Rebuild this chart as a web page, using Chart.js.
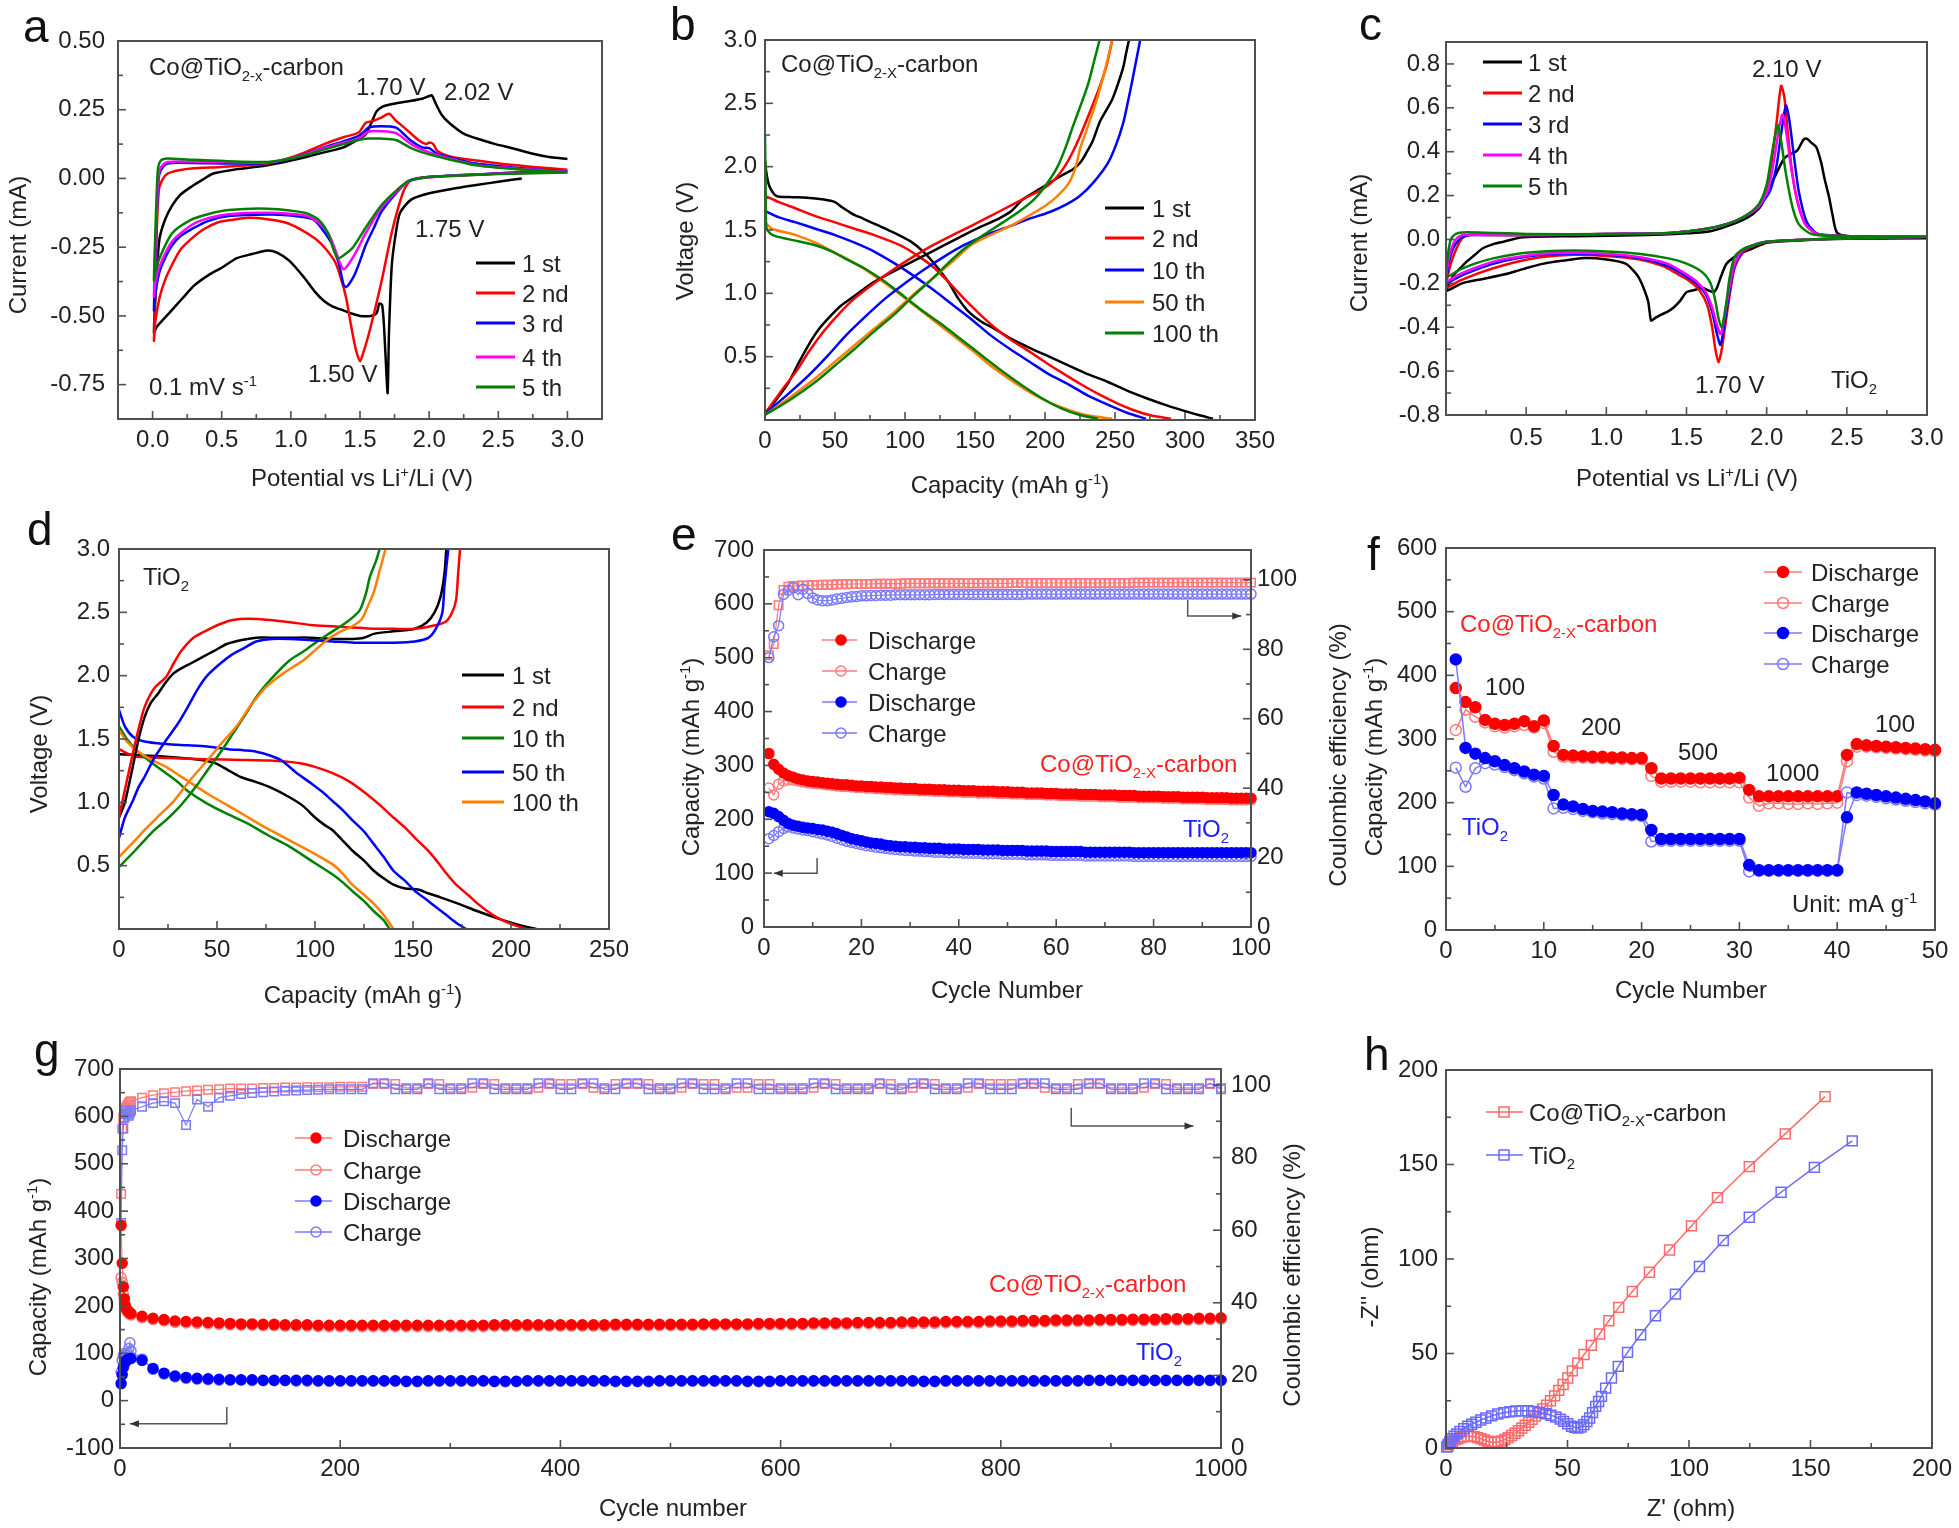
<!DOCTYPE html>
<html><head><meta charset="utf-8">
<script src="https://cdn.jsdelivr.net/npm/chart.js@4.4.1/dist/chart.umd.min.js"></script>
<style>
html,body{margin:0;padding:0;background:#fff;}
#wrap{position:relative;width:1959px;height:1528px;overflow:hidden;background:#fff;}
#wrap canvas{position:absolute;}
</style></head><body><div id="wrap"></div>
<script>
// ===================== DATA =====================
// Panel a: CV of Co@TiO2-x-carbon  [potential V, current mA]
const cvA1 = [[2.67,0.0],[2.5,-0.012],[2.34,-0.024],[2.2,-0.035],[2.0,-0.054],[1.87,-0.077],[1.79,-0.125],[1.76,-0.196],[1.73,-0.315],[1.71,-0.554],[1.70,-0.78],[1.69,-0.70],[1.675,-0.55],[1.66,-0.46],[1.64,-0.455],[1.62,-0.49],[1.58,-0.5],[1.5,-0.5],[1.43,-0.49],[1.38,-0.48],[1.3,-0.465],[1.24,-0.446],[1.17,-0.41],[1.1,-0.363],[0.99,-0.30],[0.9,-0.27],[0.83,-0.262],[0.72,-0.275],[0.61,-0.29],[0.5,-0.325],[0.41,-0.35],[0.3,-0.39],[0.22,-0.434],[0.12,-0.49],[0.03,-0.54],[0.01,-0.56],[0.03,-0.35],[0.05,-0.22],[0.09,-0.15],[0.14,-0.10],[0.2,-0.06],[0.28,-0.03],[0.36,-0.005],[0.44,0.018],[0.6,0.033],[0.83,0.048],[1.0,0.065],[1.2,0.09],[1.38,0.113],[1.48,0.14],[1.54,0.16],[1.58,0.2],[1.62,0.244],[1.66,0.26],[1.71,0.268],[1.84,0.28],[1.95,0.29],[2.0,0.30],[2.02,0.302],[2.05,0.27],[2.09,0.232],[2.15,0.2],[2.26,0.16],[2.38,0.14],[2.48,0.125],[2.6,0.11],[2.75,0.09],[2.88,0.077],[3.0,0.071]];
const cvA2 = [[3.0,0.032],[2.75,0.027],[2.48,0.018],[2.2,0.01],[2.0,0.006],[1.87,-0.006],[1.82,-0.04],[1.78,-0.1],[1.73,-0.196],[1.65,-0.387],[1.57,-0.554],[1.52,-0.64],[1.50,-0.665],[1.48,-0.64],[1.46,-0.6],[1.43,-0.52],[1.40,-0.435],[1.36,-0.36],[1.32,-0.304],[1.25,-0.255],[1.18,-0.22],[1.07,-0.185],[0.96,-0.16],[0.83,-0.148],[0.69,-0.143],[0.58,-0.15],[0.47,-0.16],[0.37,-0.185],[0.28,-0.22],[0.2,-0.26],[0.14,-0.315],[0.09,-0.37],[0.05,-0.435],[0.02,-0.52],[0.01,-0.59],[0.02,-0.4],[0.03,-0.196],[0.04,-0.08],[0.05,-0.03],[0.09,0.01],[0.14,0.024],[0.28,0.036],[0.5,0.042],[0.83,0.054],[1.05,0.085],[1.24,0.125],[1.38,0.15],[1.49,0.167],[1.54,0.202],[1.6,0.21],[1.65,0.22],[1.71,0.235],[1.76,0.21],[1.82,0.185],[1.93,0.137],[1.98,0.125],[2.0,0.131],[2.03,0.125],[2.06,0.10],[2.15,0.08],[2.34,0.065],[2.55,0.052],[2.75,0.042],[3.0,0.032]];
const cvA3 = [[3.0,0.024],[2.5,0.018],[2.0,0.005],[1.85,-0.01],[1.76,-0.054],[1.70,-0.09],[1.65,-0.125],[1.6,-0.18],[1.54,-0.244],[1.5,-0.3],[1.46,-0.351],[1.42,-0.385],[1.40,-0.395],[1.38,-0.385],[1.35,-0.315],[1.32,-0.27],[1.29,-0.232],[1.22,-0.18],[1.16,-0.149],[1.0,-0.135],[0.83,-0.131],[0.55,-0.137],[0.4,-0.155],[0.28,-0.185],[0.2,-0.21],[0.14,-0.244],[0.09,-0.29],[0.05,-0.34],[0.02,-0.42],[0.01,-0.48],[0.02,-0.3],[0.03,-0.137],[0.04,-0.03],[0.05,0.018],[0.08,0.045],[0.11,0.054],[0.19,0.057],[0.4,0.055],[0.83,0.056],[1.05,0.08],[1.24,0.113],[1.38,0.135],[1.49,0.155],[1.53,0.17],[1.56,0.185],[1.65,0.19],[1.76,0.185],[1.82,0.16],[1.87,0.137],[1.95,0.113],[2.0,0.11],[2.06,0.089],[2.2,0.07],[2.34,0.054],[2.6,0.04],[3.0,0.024]];
const cvA4 = [[3.0,0.024],[2.5,0.017],[2.0,0.004],[1.85,-0.012],[1.76,-0.05],[1.65,-0.11],[1.54,-0.2],[1.48,-0.26],[1.42,-0.31],[1.38,-0.33],[1.35,-0.3],[1.31,-0.245],[1.27,-0.2],[1.2,-0.16],[1.1,-0.135],[0.83,-0.125],[0.55,-0.13],[0.4,-0.145],[0.28,-0.17],[0.14,-0.23],[0.05,-0.32],[0.02,-0.38],[0.01,-0.43],[0.02,-0.27],[0.03,-0.12],[0.04,-0.01],[0.05,0.03],[0.08,0.052],[0.11,0.06],[0.19,0.062],[0.5,0.06],[0.83,0.058],[1.05,0.08],[1.24,0.11],[1.38,0.13],[1.49,0.145],[1.56,0.17],[1.65,0.172],[1.76,0.165],[1.87,0.125],[1.95,0.105],[2.06,0.085],[2.34,0.05],[2.6,0.037],[3.0,0.024]];
const cvA5 = [[3.0,0.022],[2.5,0.016],[2.0,0.005],[1.85,-0.01],[1.76,-0.045],[1.65,-0.1],[1.54,-0.18],[1.45,-0.25],[1.38,-0.28],[1.34,-0.29],[1.31,-0.26],[1.27,-0.2],[1.2,-0.15],[1.1,-0.125],[0.83,-0.11],[0.55,-0.115],[0.4,-0.13],[0.28,-0.15],[0.14,-0.2],[0.05,-0.29],[0.02,-0.34],[0.01,-0.37],[0.02,-0.2],[0.03,-0.05],[0.04,0.04],[0.06,0.065],[0.09,0.072],[0.15,0.072],[0.3,0.068],[0.83,0.06],[1.05,0.078],[1.24,0.105],[1.38,0.125],[1.49,0.14],[1.56,0.145],[1.65,0.145],[1.76,0.14],[1.87,0.11],[1.95,0.095],[2.06,0.08],[2.34,0.048],[2.6,0.035],[3.0,0.022]];
const aLabels = ['1 st','2 nd','3 rd','4 th','5 th'];
const aXTicks = [0,0.5,1.0,1.5,2.0,2.5,3.0];
const aYTicks = [-0.75,-0.5,-0.25,0,0.25,0.5];

// Panel b: Co@TiO2-x-carbon voltage profiles [capacity mAh/g, voltage V]
const bDis1 = [[0,2.05],[1,1.95],[3,1.85],[8,1.77],[17,1.76],[30,1.755],[42,1.74],[50,1.72],[55,1.68],[62,1.63],[70,1.59],[80,1.54],[92,1.48],[104,1.41],[114,1.32],[122,1.22],[131,1.09],[138,0.96],[145,0.86],[154,0.78],[164,0.72],[176,0.64],[189,0.57],[203,0.50],[217,0.43],[231,0.36],[245,0.30],[259,0.23],[273,0.17],[287,0.115],[300,0.07],[311,0.035],[320,0.01]];
const bDis2 = [[0,1.77],[10,1.72],[22,1.67],[36,1.61],[50,1.56],[64,1.51],[78,1.46],[90,1.41],[100,1.36],[110,1.29],[120,1.21],[131,1.09],[142,0.96],[153,0.84],[164,0.73],[176,0.63],[189,0.54],[201,0.45],[214,0.36],[226,0.28],[239,0.20],[252,0.13],[264,0.075],[276,0.035],[290,0.01]];
const bDis10 = [[0,1.65],[10,1.6],[22,1.56],[36,1.51],[50,1.46],[64,1.40],[78,1.33],[92,1.24],[106,1.14],[120,1.03],[134,0.91],[148,0.79],[161,0.67],[175,0.56],[189,0.46],[203,0.36],[217,0.28],[231,0.19],[245,0.12],[259,0.055],[272,0.01]];
const bDis50 = [[0,1.56],[5,1.51],[22,1.46],[36,1.40],[50,1.32],[64,1.24],[78,1.14],[92,1.03],[106,0.91],[120,0.79],[134,0.67],[148,0.55],[161,0.43],[175,0.32],[189,0.22],[203,0.14],[217,0.08],[231,0.035],[248,0.01]];
const bDis100 = [[0,2.25],[0.5,1.8],[1,1.52],[4,1.47],[8,1.45],[20,1.42],[36,1.38],[48,1.33],[58,1.27],[72,1.19],[86,1.09],[100,0.97],[114,0.85],[128,0.74],[142,0.62],[156,0.50],[170,0.38],[184,0.27],[198,0.17],[212,0.09],[225,0.04],[238,0.01]];
const bChg1 = [[0,0.05],[8,0.16],[17,0.30],[24,0.45],[31,0.59],[38,0.71],[45,0.80],[54,0.90],[64,0.98],[75,1.07],[86,1.14],[100,1.22],[114,1.30],[128,1.38],[142,1.46],[155,1.53],[167,1.59],[176,1.65],[184,1.74],[194,1.81],[203,1.87],[212,1.93],[220,1.98],[225,2.03],[228,2.08],[234,2.2],[239,2.35],[244,2.45],[248,2.53],[252,2.65],[256,2.79],[258,2.9],[260,3.0]];
const bChg2 = [[0,0.05],[11,0.22],[22,0.38],[32,0.55],[42,0.70],[53,0.84],[64,0.96],[78,1.08],[92,1.19],[106,1.29],[120,1.38],[134,1.46],[147,1.53],[161,1.61],[175,1.69],[187,1.76],[198,1.82],[207,1.9],[214,2.0],[220,2.12],[225,2.24],[232,2.43],[239,2.63],[244,2.8],[248,3.0]];
const bChg10 = [[0,0.05],[15,0.19],[31,0.35],[45,0.51],[58,0.67],[72,0.82],[86,0.96],[100,1.08],[114,1.19],[128,1.29],[142,1.38],[158,1.46],[175,1.53],[189,1.59],[203,1.64],[215,1.70],[225,1.77],[235,1.88],[245,2.03],[251,2.18],[256,2.35],[259,2.5],[262,2.66],[265,2.83],[268,3.0]];
const bChg50 = [[0,0.04],[18,0.18],[36,0.33],[50,0.46],[64,0.59],[78,0.72],[92,0.85],[106,0.99],[120,1.12],[134,1.25],[147,1.38],[161,1.46],[175,1.53],[188,1.61],[200,1.69],[209,1.77],[217,1.87],[222,2.0],[225,2.14],[231,2.33],[237,2.53],[243,2.77],[248,3.0]];
const bChg100 = [[0,0.04],[18,0.16],[36,0.30],[50,0.43],[64,0.56],[78,0.70],[92,0.83],[106,0.98],[120,1.12],[131,1.24],[142,1.35],[156,1.46],[170,1.56],[182,1.65],[192,1.74],[201,1.86],[209,2.0],[215,2.16],[220,2.32],[226,2.5],[231,2.66],[235,2.83],[239,3.0]];
const bLabels = ['1 st','2 nd','10 th','50 th','100 th'];
const bXTicks = [0,50,100,150,200,250,300,350];
const bYTicks = [0.5,1.0,1.5,2.0,2.5,3.0];

// Panel c: CV of TiO2
const cvC1 = [[3.0,0.005],[2.5,0.003],[2.2,-0.005],[2.0,-0.015],[1.9,-0.045],[1.82,-0.07],[1.75,-0.11],[1.72,-0.16],[1.70,-0.2],[1.69,-0.22],[1.67,-0.24],[1.63,-0.23],[1.6,-0.22],[1.55,-0.23],[1.5,-0.24],[1.46,-0.28],[1.42,-0.31],[1.38,-0.33],[1.35,-0.34],[1.31,-0.355],[1.28,-0.37],[1.27,-0.33],[1.26,-0.28],[1.22,-0.2],[1.19,-0.16],[1.12,-0.11],[0.99,-0.09],[0.86,-0.085],[0.75,-0.095],[0.61,-0.11],[0.48,-0.135],[0.36,-0.16],[0.23,-0.18],[0.1,-0.2],[0.0,-0.235],[0.02,-0.2],[0.05,-0.16],[0.09,-0.13],[0.13,-0.1],[0.18,-0.07],[0.23,-0.04],[0.3,-0.02],[0.36,-0.01],[0.48,0.01],[0.8,0.015],[1.25,0.02],[1.5,0.028],[1.63,0.035],[1.75,0.06],[1.88,0.1],[1.95,0.14],[1.98,0.175],[2.02,0.24],[2.06,0.3],[2.11,0.37],[2.15,0.39],[2.19,0.405],[2.23,0.455],[2.25,0.46],[2.28,0.44],[2.31,0.42],[2.34,0.35],[2.36,0.28],[2.39,0.19],[2.41,0.115],[2.44,0.03],[2.52,0.015],[3.0,0.01]];
const cvC2 = [[3.0,0.012],[2.5,0.005],[2.2,-0.002],[2.0,-0.012],[1.9,-0.035],[1.85,-0.06],[1.8,-0.13],[1.77,-0.25],[1.74,-0.4],[1.72,-0.5],[1.70,-0.56],[1.68,-0.5],[1.66,-0.4],[1.63,-0.3],[1.58,-0.23],[1.52,-0.19],[1.45,-0.16],[1.35,-0.12],[1.2,-0.09],[1.0,-0.075],[0.8,-0.07],[0.6,-0.08],[0.45,-0.1],[0.3,-0.13],[0.18,-0.16],[0.08,-0.19],[0.0,-0.22],[0.01,-0.17],[0.03,-0.11],[0.06,-0.05],[0.1,0.005],[0.15,0.02],[0.3,0.02],[0.6,0.02],[1.0,0.025],[1.4,0.03],[1.6,0.045],[1.75,0.07],[1.85,0.1],[1.95,0.15],[2.0,0.23],[2.03,0.35],[2.06,0.52],[2.09,0.70],[2.11,0.65],[2.13,0.5],[2.16,0.3],[2.2,0.15],[2.25,0.06],[2.32,0.025],[2.5,0.015],[3.0,0.012]];
const cvC3 = [[3.0,0.012],[2.5,0.006],[2.2,-0.002],[2.0,-0.01],[1.9,-0.03],[1.85,-0.055],[1.8,-0.12],[1.77,-0.23],[1.74,-0.37],[1.72,-0.46],[1.71,-0.48],[1.69,-0.43],[1.66,-0.33],[1.62,-0.25],[1.56,-0.2],[1.48,-0.16],[1.38,-0.12],[1.2,-0.085],[1.0,-0.07],[0.8,-0.065],[0.6,-0.07],[0.45,-0.085],[0.3,-0.11],[0.18,-0.14],[0.08,-0.17],[0.0,-0.2],[0.01,-0.14],[0.03,-0.07],[0.06,-0.02],[0.1,0.01],[0.15,0.02],[0.6,0.02],[1.0,0.025],[1.4,0.03],[1.6,0.045],[1.75,0.07],[1.85,0.1],[1.95,0.15],[2.02,0.22],[2.06,0.33],[2.09,0.48],[2.12,0.61],[2.14,0.55],[2.17,0.38],[2.2,0.22],[2.25,0.08],[2.32,0.025],[2.5,0.015],[3.0,0.012]];
const cvC4 = [[3.0,0.012],[2.5,0.006],[2.0,-0.01],[1.9,-0.03],[1.85,-0.05],[1.8,-0.11],[1.77,-0.21],[1.74,-0.34],[1.72,-0.42],[1.71,-0.43],[1.69,-0.39],[1.66,-0.31],[1.62,-0.24],[1.56,-0.19],[1.48,-0.15],[1.38,-0.11],[1.2,-0.08],[1.0,-0.065],[0.8,-0.06],[0.6,-0.065],[0.45,-0.08],[0.3,-0.1],[0.18,-0.13],[0.08,-0.16],[0.0,-0.19],[0.01,-0.12],[0.03,-0.05],[0.06,0.0],[0.1,0.02],[0.15,0.022],[0.6,0.02],[1.0,0.025],[1.4,0.03],[1.6,0.045],[1.75,0.07],[1.85,0.1],[1.95,0.15],[2.01,0.23],[2.05,0.38],[2.08,0.52],[2.10,0.57],[2.12,0.5],[2.15,0.34],[2.19,0.18],[2.24,0.07],[2.32,0.025],[2.5,0.015],[3.0,0.012]];
const cvC5 = [[3.0,0.012],[2.5,0.006],[2.0,-0.01],[1.9,-0.03],[1.85,-0.045],[1.8,-0.08],[1.77,-0.17],[1.75,-0.28],[1.73,-0.37],[1.72,-0.40],[1.70,-0.36],[1.68,-0.28],[1.65,-0.2],[1.6,-0.15],[1.5,-0.11],[1.38,-0.085],[1.2,-0.065],[1.0,-0.055],[0.8,-0.05],[0.6,-0.055],[0.45,-0.065],[0.3,-0.085],[0.18,-0.11],[0.08,-0.14],[0.0,-0.17],[0.01,-0.08],[0.03,0.0],[0.06,0.025],[0.1,0.032],[0.2,0.032],[0.5,0.025],[1.0,0.025],[1.4,0.03],[1.6,0.045],[1.75,0.07],[1.85,0.1],[1.95,0.16],[2.0,0.25],[2.03,0.38],[2.06,0.5],[2.07,0.52],[2.09,0.45],[2.12,0.3],[2.16,0.15],[2.2,0.07],[2.28,0.025],[2.5,0.015],[3.0,0.012]];
const cXTicks = [0.5,1.0,1.5,2.0,2.5,3.0];
const cYTicks = [-0.8,-0.6,-0.4,-0.2,0,0.2,0.4,0.6,0.8];

// Panel d: TiO2 voltage profiles
const dDis1 = [[0,1.38],[12,1.37],[24,1.36],[39,1.34],[49,1.31],[55,1.26],[62,1.2],[70,1.16],[77,1.12],[87,1.04],[94,0.97],[100,0.88],[105,0.82],[109,0.78],[114,0.7],[119,0.62],[125,0.54],[130,0.46],[135,0.4],[140,0.35],[146,0.32],[153,0.31],[158,0.28],[164,0.25],[173,0.2],[183,0.14],[192,0.09],[200,0.05],[207,0.02],[213,0.0]];
const dDis2 = [[0,1.42],[5,1.38],[9,1.36],[25,1.35],[45,1.34],[62,1.335],[77,1.33],[86,1.32],[92,1.31],[100,1.28],[109,1.23],[118,1.16],[126,1.07],[133,0.98],[140,0.88],[146,0.8],[151,0.72],[157,0.63],[162,0.54],[167,0.44],[172,0.35],[178,0.27],[183,0.2],[188,0.14],[193,0.09],[200,0.04],[208,0.0]];
const dDis10 = [[0,1.6],[4,1.5],[9,1.41],[16,1.32],[24,1.23],[30,1.16],[35,1.09],[45,0.99],[55,0.91],[66,0.83],[76,0.74],[87,0.65],[98,0.54],[109,0.43],[114,0.37],[119,0.30],[125,0.22],[130,0.14],[135,0.07],[138,0.0]];
const dDis50 = [[0,1.73],[3,1.6],[7,1.52],[13,1.48],[24,1.46],[35,1.45],[45,1.44],[56,1.42],[64,1.41],[70,1.40],[77,1.37],[83,1.33],[90,1.24],[98,1.15],[104,1.08],[109,1.01],[114,0.94],[119,0.86],[125,0.77],[130,0.67],[135,0.57],[140,0.46],[146,0.38],[151,0.30],[157,0.23],[162,0.17],[167,0.11],[172,0.05],[177,0.0]];
const dDis100 = [[0,1.57],[4,1.48],[9,1.41],[16,1.34],[24,1.28],[30,1.22],[35,1.17],[45,1.07],[55,0.98],[66,0.88],[76,0.79],[87,0.70],[98,0.61],[109,0.51],[114,0.44],[119,0.35],[125,0.27],[130,0.2],[135,0.11],[140,0.0]];
const dChg1 = [[0,0.88],[3,1.0],[7,1.28],[10,1.5],[13,1.67],[16,1.78],[20,1.86],[24,1.95],[28,2.02],[32,2.06],[37,2.1],[43,2.15],[49,2.2],[55,2.25],[62,2.28],[70,2.3],[77,2.3],[87,2.3],[98,2.3],[109,2.29],[119,2.29],[125,2.3],[130,2.33],[140,2.35],[151,2.37],[157,2.42],[161,2.5],[164,2.62],[166,2.8],[167,3.0]];
const dChg2 = [[0,0.88],[3,1.1],[7,1.38],[10,1.58],[13,1.75],[18,1.9],[24,1.99],[28,2.1],[32,2.2],[38,2.3],[45,2.36],[52,2.41],[58,2.44],[66,2.45],[77,2.44],[88,2.42],[98,2.4],[109,2.39],[119,2.38],[130,2.37],[140,2.37],[151,2.37],[162,2.4],[167,2.43],[170,2.5],[172,2.6],[173,2.8],[174,3.0]];
const dChg10 = [[0,0.49],[7,0.6],[13,0.70],[18,0.78],[24,0.86],[30,0.95],[35,1.04],[40,1.14],[45,1.25],[52,1.4],[58,1.54],[64,1.68],[70,1.83],[78,1.98],[87,2.12],[95,2.2],[102,2.28],[108,2.34],[115,2.41],[120,2.47],[123,2.52],[126,2.65],[128,2.78],[131,2.9],[133,3.0]];
const dChg50 = [[0,0.72],[3,0.88],[7,1.01],[10,1.12],[13,1.2],[18,1.35],[24,1.49],[30,1.62],[35,1.75],[40,1.89],[45,2.0],[52,2.1],[58,2.17],[64,2.22],[70,2.27],[78,2.29],[87,2.29],[98,2.28],[109,2.27],[120,2.26],[130,2.26],[140,2.26],[151,2.27],[158,2.3],[162,2.38],[165,2.5],[166,2.7],[168,3.0]];
const dChg100 = [[0,0.57],[7,0.68],[13,0.78],[20,0.89],[28,1.01],[36,1.17],[45,1.33],[52,1.46],[60,1.6],[67,1.76],[75,1.91],[84,2.02],[94,2.12],[100,2.2],[106,2.28],[112,2.34],[119,2.39],[124,2.45],[127,2.55],[130,2.66],[133,2.83],[136,3.0]];
const dLabels = ['1 st','2 nd','10 th','50 th','100 th'];
const dXTicks = [0,50,100,150,200,250];
const dYTicks = [0.5,1.0,1.5,2.0,2.5,3.0];

// Panel e: cycling at 100 cycles
const eCycles = [1,2,3,4,5,6,7,8,9,10,11,12,13,14,15,16,17,18,19,20,21,22,23,24,25,26,27,28,29,30,31,32,33,34,35,36,37,38,39,40,41,42,43,44,45,46,47,48,49,50,51,52,53,54,55,56,57,58,59,60,61,62,63,64,65,66,67,68,69,70,71,72,73,74,75,76,77,78,79,80,81,82,83,84,85,86,87,88,89,90,91,92,93,94,95,96,97,98,99,100];
const eRedDis = [322,302,293,286,281,278,275,273,271,270, 269,268,267,266,265,264,264,263,262,262, 261,261,260,260,259,259,258,258,257,257, 257,256,256,256,255,255,255,254,254,254, 253,253,253,252,252,252,252,251,251,251, 250,250,250,249,249,249,249,248,248,248, 247,247,247,247,246,246,246,246,245,245, 245,245,244,244,244,244,243,243,243,243, 243,242,242,242,242,241,241,241,241,241, 240,240,240,240,240,239,239,239,239,239];
const eRedChg = [258,245,265,271,273,273,271,269,268,267, 266,265,264,263,262,261,261,260,259,259, 258,258,257,257,256,256,255,255,254,254, 254,253,253,253,252,252,252,251,251,251, 250,250,250,249,249,249,249,248,248,248, 247,247,247,246,246,246,246,245,245,245, 244,244,244,244,243,243,243,243,242,242, 242,242,241,241,241,241,240,240,240,240, 240,239,239,239,239,238,238,238,238,238, 237,237,237,237,237,236,236,236,236,236];
const eBlueDis = [214,211,205,198,192,189,187,185,184,183, 181,180,178,176,173,170,167,164,162,160, 158,156,155,154,152,151,150,149,149,148, 148,147,147,146,146,146,145,145,145,145, 144,144,144,144,143,143,143,143,142,142, 142,142,142,141,141,141,141,141,140,140, 140,140,140,140,140,139,139,139,139,139, 139,139,139,139,139,138,138,138,138,138, 138,138,138,138,138,138,138,138,138,138, 138,138,138,138,138,138,138,138,138,138];
const eBlueChg = [164,170,177,183,186,184,182,180,179,177, 175,173,171,168,165,162,159,157,155,153, 151,150,148,147,146,145,144,143,142,142, 141,141,140,140,139,139,139,138,138,138, 137,137,137,137,136,136,136,136,135,135, 135,135,135,134,134,134,134,134,133,133, 133,133,133,133,133,132,132,132,132,132, 132,132,132,132,132,131,131,131,131,131, 131,131,131,131,131,131,131,131,131,131, 131,131,131,131,131,131,131,131,131,131];
const eRedCE = [78.3,81.5,92.7,97.1,98.0,98.2,98.3,98.4,98.4,98.5, 98.5,98.6,98.6,98.6,98.7,98.7,98.7,98.8,98.8,98.8, 98.8,98.8,98.9,98.9,98.9,98.9,98.9,98.9,99.0,99.0, 99.0,99.0,99.0,99.0,99.0,99.0,99.0,99.0,99.0,99.0, 99.0,99.0,99.0,99.0,99.0,99.0,99.0,99.0,99.0,99.0, 99.1,99.1,99.1,99.1,99.1,99.1,99.1,99.1,99.1,99.1, 99.1,99.1,99.1,99.1,99.1,99.1,99.1,99.1,99.1,99.1, 99.1,99.1,99.1,99.1,99.1,99.2,99.2,99.2,99.2,99.2, 99.2,99.2,99.2,99.2,99.2,99.2,99.2,99.2,99.2,99.2, 99.2,99.2,99.2,99.2,99.2,99.2,99.2,99.2,99.2,99.2];
const eBlueCE = [77.6,83.6,86.8,95.8,97.0,97.7,95.7,97.3,96.1,94.8, 94.2,94.0,94.0,94.2,94.5,94.7,94.9,95.1,95.2,95.4, 95.4,95.5,95.5,95.6,95.6,95.6,95.7,95.7,95.7,95.7, 95.7,95.7,95.7,95.7,95.8,95.8,95.8,95.8,95.8,95.8, 95.8,95.8,95.8,95.8,95.8,95.8,95.8,95.8,95.8,95.8, 95.8,95.8,95.8,95.9,95.9,95.9,95.9,95.9,95.9,95.9, 95.9,95.9,95.9,95.9,95.9,95.9,95.9,95.9,95.9,95.9, 95.9,95.9,95.9,95.9,95.9,95.9,95.9,95.9,95.9,95.9, 95.9,95.9,95.9,95.9,95.9,95.9,95.9,95.9,95.9,95.9, 95.9,95.9,95.9,95.9,95.9,95.9,95.9,95.9,95.9,95.9];
const eXTicks = [0,20,40,60,80,100];
const eYTicks = [0,100,200,300,400,500,600,700];
const eY2Ticks = [0,20,40,60,80,100];

// Panel f: rate capability
const fCycles = [1,2,3,4,5,6,7,8,9,10,11,12,13,14,15,16,17,18,19,20,21,22,23,24,25,26,27,28,29,30,31,32,33,34,35,36,37,38,39,40,41,42,43,44,45,46,47,48,49,50];
const fRedDis = [380,358,350,330,324,322,324,328,320,329, 289,275,274,273,272,272,271,271,270,270, 254,238,238,238,238,238,238,238,238,239, 220,210,210,210,210,210,210,210,210,210, 275,292,290,289,288,287,286,285,284,283];
const fRedChg = [314,346,335,326,320,318,320,322,318,325, 280,272,271,271,270,270,269,269,268,268, 242,233,233,233,233,232,232,232,232,232, 208,195,199,199,198,198,199,198,199,200, 265,288,288,287,286,285,284,283,282,281];
const fBlueDis = [425,286,277,270,265,259,254,249,244,242, 212,197,194,190,187,186,185,183,182,181, 157,143,143,143,143,143,143,143,143,143, 102,94,94,94,94,94,94,94,94,94, 177,216,214,212,210,208,206,204,202,199];
const fBlueChg = [255,225,254,262,260,256,251,246,241,238, 191,192,190,187,185,183,182,181,180,179, 139,140,140,140,140,140,140,140,140,140, 92,93,93,93,93,93,93,93,93,93, 216,212,211,209,207,205,203,201,199,197];
const fXTicks = [0,10,20,30,40,50];
const fYTicks = [0,100,200,300,400,500,600];

// Panel g: long cycling (1000 cycles)
const gCycles = [1,2,3,4,5,6,7,8,9,10,20,30,40,50,60,70,80,90,100,110,120,130,140,150,160,170,180,190,200,210,220,230,240,250,260,270,280,290,300,310,320,330,340,350,360,370,380,390,400,410,420,430,440,450,460,470,480,490,500,510,520,530,540,550,560,570,580,590,600,610,620,630,640,650,660,670,680,690,700,710,720,730,740,750,760,770,780,790,800,810,820,830,840,850,860,870,880,890,900,910,920,930,940,950,960,970,980,990,1000];
const gRedDis = [370,290,240,215,200,193,190,187,185,184, 178,174,171,168,167,166,165,164,163, 162,162,161,161,160,160,160,159,159,159, 159,159,159,159,159,159,159,159,159,159, 159,159,159,160,160,160,160,160,160,160, 160,160,160,160,161,161,161,161,161,161, 161,161,162,162,162,162,162,163,163,163, 163,163,164,164,164,164,165,165,165,165, 166,166,166,166,167,167,167,167,168,168, 168,169,169,169,170,170,170,170,171,171, 171,172,172,172,173,173,173,174,174,175];
const gRedChg = [260,250,225,205,195,190,187,184,182,181, 175,171,168,165,164,163,162,161,160, 159,159,158,158,157,157,157,156,156,156, 156,156,156,156,156,156,156,156,156,156, 156,156,156,157,157,157,157,157,157,157, 157,157,157,157,158,158,158,158,158,158, 158,158,159,159,159,159,159,160,160,160, 160,160,161,161,161,161,162,162,162,162, 163,163,163,163,164,164,164,164,165,165, 165,166,166,166,167,167,167,167,168,168, 168,169,169,169,170,170,170,171,171,172];
const gBlueDis = [36,55,70,78,83,85,87,88,89,89, 85,68,58,52,49,47,46,45,44, 44,44,43,43,43,43,43,42,42,42, 42,42,42,42,42,41,41,42,42,42, 42,42,42,41,41,41,42,42,42,42, 42,42,42,42,41,41,41,41,42,42, 42,42,42,42,42,42,41,41,41,42, 42,42,42,42,42,42,42,42,42,42, 42,42,41,41,42,42,42,42,42,42, 42,42,42,42,42,42,42,43,43,43, 43,43,43,43,43,43,43,43,43,43];
const gBlueChg = [60,85,95,100,97,95,100,110,122,105, 88,66,56,50,47,45,44,43,43, 43,42,42,42,42,41,41,41,41,41, 41,41,41,41,41,40,40,41,41,41, 41,41,41,40,40,40,41,41,41,41, 41,41,41,41,40,40,40,40,41,41, 41,41,41,41,41,41,40,40,40,41, 41,41,41,41,41,41,41,41,41,41, 41,41,40,40,41,41,41,41,41,41, 41,41,41,41,41,41,41,42,42,42, 42,42,42,42,42,42,42,42,42,42];
const gRedCE = [70,88,91,92.5,93.5,94,94.5,95,95.3,95.5, 96.5,97.2,97.7,98,98.3,98.5,98.7,98.8,99, 99,99,99.2,99.2,99.3,99.3,99.4,99.4,99.4,99.5, 99.5,99.5,100.3,100.3,100.3,99.2,99.2,100.3,100.3,99.2, 99.2,99.2,100.3,100.3,99.2,99.2,99.2,99.2,100.3,100.3, 100.3,100.3,99.2,99.2,100.3,100.3,100.3,100.3,99.2,99.2, 99.2,100.3,100.3,100.3,99.2,99.2,99.2,100.3,100.3,99.2, 99.2,99.2,99.2,100.3,100.3,99.2,99.2,99.2,100.3,100.3, 99.2,99.2,100.3,100.3,99.2,99.2,99.2,100.3,100.3,100.3, 100.3,100.3,100.3,99.2,99.2,99.2,100.3,100.3,100.3,99.2, 99.2,99.2,99.2,100.3,100.3,99.2,99.2,99.2,100.3,99.2];
const gBlueCE = [62,82,88,91,92,93,92,91.5,92.5,93, 94,95,95.5,95,89,96,94,96.5,97, 97.5,97.8,98,98.2,98.4,98.5,98.6,98.7,98.8,98.8, 98.8,98.8,100.5,100.5,98.8,98.8,98.8,100.5,98.8,98.8, 98.8,100.5,100.5,98.8,98.8,98.8,98.8,100.5,100.5,98.8, 98.8,100.5,100.5,98.8,98.8,100.5,100.5,98.8,98.8,98.8, 100.5,100.5,98.8,98.8,98.8,100.5,100.5,98.8,98.8,98.8, 98.8,98.8,100.5,100.5,98.8,98.8,98.8,98.8,100.5,98.8, 98.8,100.5,100.5,98.8,98.8,98.8,100.5,100.5,98.8,98.8, 98.8,100.5,100.5,100.5,98.8,98.8,98.8,100.5,100.5,98.8, 98.8,98.8,100.5,100.5,98.8,98.8,98.8,98.8,100.5,98.8];
const gXTicks = [0,200,400,600,800,1000];
const gYTicks = [-100,0,100,200,300,400,500,600,700];
const gY2Ticks = [0,20,40,60,80,100];

// Panel h: Nyquist plots [Z' ohm, -Z'' ohm]
const hRed = [[0.8,0.9],[1.6,2.6],[2.6,3.5],[3.6,4.3],[4.8,4.9],[6.1,5.5],[7.4,5.9],[8.8,6.2],[10.2,6.2],[11.6,6.0],[13.0,5.5],[14.4,4.9],[15.8,4.2],[17.2,3.6],[18.6,3.1],[20.0,3.0],[21.4,3.2],[22.8,3.7],[24.2,4.5],[25.6,5.5],[27.0,6.6],[28.4,7.8],[29.8,9.1],[31.2,10.5],[32.6,12.0],[34.0,13.6],[35.4,15.2],[36.8,16.9],[38.3,18.7],[39.8,20.6],[41.4,22.7],[43.0,25.0],[44.7,27.6],[46.4,30.5],[48.2,33.6],[50.1,37.0],[52.0,40.8],[54.2,44.9],[56.8,49.5],[59.8,54.3],[63.2,60.3],[67.0,67.3],[71.1,74.4],[76.7,82.8],[83.7,93.0],[92.0,104.8],[101.0,117.5],[111.7,132.5],[124.8,148.9],[139.6,166.2],[156.0,185.9]];
const hBlue = [[0.3,0.5],[0.9,2.0],[1.6,3.5],[2.4,4.9],[3.3,6.2],[4.4,7.5],[5.7,8.8],[7.3,10.2],[9.0,11.5],[10.6,12.6],[12.3,13.6],[14.3,14.8],[16.4,15.9],[18.8,17.0],[21.3,18.0],[23.8,18.7],[26.3,19.2],[28.7,19.6],[31.2,19.7],[33.7,19.7],[36.1,19.4],[38.6,18.8],[41.0,18.1],[43.2,17.3],[45.2,16.4],[47.0,15.3],[48.4,14.1],[50.1,12.8],[51.7,11.5],[53.0,10.9],[54.2,10.6],[55.5,11.1],[56.7,12.3],[58.0,14.0],[59.1,15.9],[60.3,18.7],[61.6,22.0],[62.8,24.6],[64.0,27.3],[65.7,31.7],[68.1,37.0],[70.9,43.2],[74.7,50.6],[80.1,59.9],[86.2,70.0],[94.4,81.4],[104.3,96.0],[114.1,109.8],[124.8,122.1],[137.9,135.3],[151.6,148.5],[167.2,162.5]];
const hTicks = [0,50,100,150,200];

// ===================== RENDERING =====================
const F = '"Liberation Sans", Arial, Helvetica, sans-serif';
const TXT = '#222';
const wrap = document.getElementById('wrap');

function parse(s) {
  const out = []; const re = /([_^])\{([^}]*)\}/g; let last = 0, m;
  while ((m = re.exec(s))) { if (m.index > last) out.push([s.slice(last, m.index), 0]); out.push([m[2], m[1] === '^' ? 1 : -1]); last = re.lastIndex; }
  if (last < s.length) out.push([s.slice(last), 0]);
  return out;
}
function drawRich(ctx, str, x, y, size, color, align, rot) {
  const parts = parse(str);
  ctx.save();
  ctx.fillStyle = color; ctx.textBaseline = 'alphabetic'; ctx.textAlign = 'left';
  const segs = parts.map(([t, m]) => { const s = m ? size * 0.62 : size; ctx.font = s + 'px ' + F; return {t, s, w: ctx.measureText(t).width, dy: m === 1 ? -size * 0.38 : (m === -1 ? size * 0.24 : 0)}; });
  const W = segs.reduce((a, g) => a + g.w, 0);
  if (rot) { ctx.translate(x + size * 0.35, y); ctx.rotate(-Math.PI / 2); } else ctx.translate(x, y);
  let cx = align === 'center' ? -W / 2 : (align === 'right' ? -W : 0);
  for (const g of segs) { ctx.font = g.s + 'px ' + F; ctx.fillText(g.t, cx, g.dy); cx += g.w; }
  ctx.restore();
}
function drawMarker(ctx, style, x, y, r, stroke, fill, lw) {
  ctx.save(); ctx.lineWidth = lw; ctx.strokeStyle = stroke; ctx.fillStyle = fill;
  ctx.beginPath();
  if (style === 'rect') { const h = r * Math.SQRT1_2; ctx.rect(x - h, y - h, 2 * h, 2 * h); }
  else ctx.arc(x, y, r, 0, Math.PI * 2);
  if (fill && fill !== 'transparent') ctx.fill();
  ctx.stroke(); ctx.restore();
}

const decoPlugin = {
  id: 'deco',
  afterDraw(chart, args, o) {
    const ctx = chart.ctx, ca = chart.chartArea;
    ctx.save();
    // frame
    ctx.strokeStyle = '#505050'; ctx.lineWidth = 2;
    ctx.strokeRect(ca.left, ca.top, ca.right - ca.left, ca.bottom - ca.top);
    // inward ticks
    ctx.lineWidth = 1.6;
    for (const id of Object.keys(chart.scales)) {
      const s = chart.scales[id];
      const vals = s.ticks.map(t => t.value);
      const minors = [];
      for (let i = 0; i < vals.length - 1; i++) minors.push((vals[i] + vals[i + 1]) / 2);
      if (vals.length > 1) { const st = vals[1] - vals[0]; minors.push(vals[0] - st / 2, vals[vals.length - 1] + st / 2); }
      const tk = (v, len) => {
        if (v < s.min - 1e-9 || v > s.max + 1e-9) return;
        const p = s.getPixelForValue(v);
        ctx.beginPath();
        if (s.position === 'bottom') { ctx.moveTo(p, ca.bottom); ctx.lineTo(p, ca.bottom - len); }
        else if (s.position === 'left') { ctx.moveTo(ca.left, p); ctx.lineTo(ca.left + len, p); }
        else { ctx.moveTo(ca.right, p); ctx.lineTo(ca.right - len, p); }
        ctx.stroke();
      };
      vals.forEach(v => tk(v, 8)); minors.forEach(v => tk(v, 5));
    }
    // arrows
    for (const ar of (o.arrows || [])) {
      const xs = chart.scales.x, ys = chart.scales[ar.y || 'y'];
      const P = ar.pts.map(p => [xs.getPixelForValue(p[0]), ys.getPixelForValue(p[1])]);
      ctx.strokeStyle = '#555'; ctx.lineWidth = 1.5; ctx.beginPath();
      P.forEach((p, i) => i ? ctx.lineTo(p[0], p[1]) : ctx.moveTo(p[0], p[1])); ctx.stroke();
      const [x1, y1] = P[P.length - 2], [x2, y2] = P[P.length - 1];
      const an = Math.atan2(y2 - y1, x2 - x1), c = Math.cos(an), sn = Math.sin(an);
      ctx.fillStyle = '#333'; ctx.beginPath(); ctx.moveTo(x2, y2);
      ctx.lineTo(x2 - 9 * c + 3.5 * sn, y2 - 9 * sn - 3.5 * c); ctx.lineTo(x2 - 9 * c - 3.5 * sn, y2 - 9 * sn + 3.5 * c);
      ctx.closePath(); ctx.fill();
    }
    // legend
    const L = o.legend;
    if (L) {
      L.ds.forEach((di, i) => {
        const d = chart.data.datasets[di]; const y = L.ys[i];
        ctx.lineWidth = L.marker ? 1.5 : 3; ctx.strokeStyle = d.borderColor;
        ctx.beginPath(); ctx.moveTo(L.x1, y); ctx.lineTo(L.x2, y); ctx.stroke();
        if (L.marker) drawMarker(ctx, d.pointStyle, L.xm, y, d.pointRadius, d.pointBorderColor, d.pointBackgroundColor, 1.5);
        drawRich(ctx, d.label, L.xt, y + 8.5, 24, TXT, 'left', false);
      });
    }
    // texts
    for (const t of (o.texts || [])) drawRich(ctx, t.t, t.x, t.y, t.s || 24, t.c || TXT, t.a || 'left', !!t.r);
    ctx.restore();
  }
};

Chart.defaults.font.family = F;

function axis(pos, c, size) {
  return {
    type: 'linear', position: pos, min: c.min, max: c.max, bounds: 'data',
    grid: {display: false, drawTicks: false}, border: {display: false}, title: {display: false},
    ticks: {font: {family: F, size: 24}, color: TXT, padding: c.pad, autoSkip: false, maxRotation: 0, minRotation: 0, includeBounds: false, callback: (v) => c.fmt(v)},
    afterBuildTicks: s => { s.ticks = c.ticks.map(v => ({value: v})); },
    afterFit: s => { if (pos === 'bottom') s.height = size; else s.width = size; }
  };
}
function mk(cfg) {
  const b = cfg.box, a = cfg.area;
  const cv = document.createElement('canvas');
  cv.width = b.w; cv.height = b.h;
  cv.style.left = b.x + 'px'; cv.style.top = b.y + 'px'; cv.style.width = b.w + 'px'; cv.style.height = b.h + 'px';
  wrap.appendChild(cv);
  const scales = {x: axis('bottom', cfg.x, b.h - a.B), y: axis('left', cfg.y, a.L)};
  if (cfg.y2) scales.y2 = axis('right', cfg.y2, b.w - a.R);
  cfg.datasets.forEach((d, i) => { d.order = cfg.datasets.length - i; });
  new Chart(cv, {
    type: 'scatter',
    data: {datasets: cfg.datasets},
    options: {
      responsive: false, animation: false, devicePixelRatio: 1,
      layout: {padding: {left: 0, top: a.T, right: cfg.y2 ? 0 : b.w - a.R, bottom: 0}},
      scales,
      plugins: {legend: {display: false}, tooltip: {enabled: false}, deco: cfg.deco}
    },
    plugins: [decoPlugin]
  });
}
const P = arr => arr.map(p => ({x: p[0], y: p[1]}));
const line = (data, color, label) => ({label, data: P(data), showLine: true, borderColor: color, backgroundColor: color, borderWidth: 2.5, pointRadius: 0, tension: 0.25});
const XY = (xs, ys) => xs.map((x, i) => ({x, y: ys[i]}));
const mark = (xs, ys, o) => ({label: o.label, data: XY(xs, ys), yAxisID: o.y || 'y', showLine: true, borderColor: o.line, borderWidth: o.lw || 1.2,
  pointStyle: o.ps || 'circle', pointRadius: o.r || 5, pointBorderColor: o.c, pointBackgroundColor: o.fill, pointBorderWidth: 1.5, clip: 10, tension: 0});

const f2 = v => v.toFixed(2), f1 = v => v.toFixed(1), f0 = v => String(Math.round(v));
const RED = '#ff0000', BLUE = '#0000ff', BLACK = '#000000', MAG = '#ff00ff', GREEN = '#008000', ORANGE = '#ff8000';
const LRED = '#ff7a7a', LBLUE = '#7a7aff';
const CO = 'Co@TiO_{2-x}-carbon', COX = 'Co@TiO_{2-X}-carbon';

// ---- a ----
mk({
  box: {x: 0, y: 0, w: 650, h: 500}, area: {L: 118, T: 41, R: 602, B: 419},
  x: {min: -0.25, max: 3.25, ticks: aXTicks, fmt: f1, pad: 7},
  y: {min: -0.875, max: 0.5, ticks: aYTicks, fmt: f2, pad: 13},
  datasets: [cvA1, cvA2, cvA3, cvA4, cvA5].map((d, i) => line(d, [BLACK, RED, BLUE, MAG, GREEN][i], aLabels[i])),
  deco: {
    legend: {x1: 476, x2: 515, xt: 522, ys: [263, 293, 323, 357, 387], ds: [0, 1, 2, 3, 4]},
    texts: [
      {t: 'a', x: 23, y: 42, s: 46, c: '#111'},
      {t: 'Current (mA)', x: 18, y: 245, r: 1, a: 'center'},
      {t: 'Potential vs Li^{+}/Li (V)', x: 362, y: 486, a: 'center'},
      {t: CO, x: 149, y: 75},
      {t: '1.70 V', x: 356, y: 95}, {t: '2.02 V', x: 444, y: 100},
      {t: '1.75 V', x: 415, y: 237}, {t: '1.50 V', x: 308, y: 382},
      {t: '0.1 mV s^{-1}', x: 149, y: 395}
    ]
  }
});

// ---- b ----
const bCol = [BLACK, RED, BLUE, ORANGE, GREEN];
const bDs = [];
[bDis1, bDis2, bDis10, bDis50, bDis100].forEach((d, i) => bDs.push(line(d, bCol[i], bLabels[i])));
[bChg1, bChg2, bChg10, bChg50, bChg100].forEach((d, i) => bDs.push(line(d, bCol[i], bLabels[i])));
mk({
  box: {x: 650, y: 0, w: 670, h: 500}, area: {L: 115, T: 40, R: 605, B: 420},
  x: {min: 0, max: 350, ticks: bXTicks, fmt: f0, pad: 7},
  y: {min: 0, max: 3, ticks: bYTicks, fmt: f1, pad: 8},
  datasets: bDs,
  deco: {
    legend: {x1: 455, x2: 494, xt: 502, ys: [208, 238, 270, 302, 333], ds: [0, 1, 2, 3, 4]},
    texts: [
      {t: 'b', x: 20, y: 40, s: 46, c: '#111'},
      {t: 'Voltage (V)', x: 35, y: 241, r: 1, a: 'center'},
      {t: 'Capacity (mAh g^{-1})', x: 360, y: 493, a: 'center'},
      {t: COX, x: 131, y: 72}
    ]
  }
});

// ---- c ----
mk({
  box: {x: 1320, y: 0, w: 639, h: 500}, area: {L: 126, T: 42, R: 607, B: 415},
  x: {min: 0, max: 3, ticks: cXTicks, fmt: f1, pad: 9},
  y: {min: -0.8, max: 0.9, ticks: cYTicks, fmt: f1, pad: 6},
  datasets: [cvC1, cvC2, cvC3, cvC4, cvC5].map((d, i) => line(d, [BLACK, RED, BLUE, MAG, GREEN][i], aLabels[i])),
  deco: {
    legend: {x1: 163, x2: 202, xt: 208, ys: [62, 93, 124, 155, 186], ds: [0, 1, 2, 3, 4]},
    texts: [
      {t: 'c', x: 39, y: 40, s: 46, c: '#111'},
      {t: 'Current (mA)', x: 39, y: 243, r: 1, a: 'center'},
      {t: 'Potential vs Li^{+}/Li (V)', x: 367, y: 486, a: 'center'},
      {t: '2.10 V', x: 432, y: 77}, {t: '1.70 V', x: 375, y: 393},
      {t: 'TiO_{2}', x: 511, y: 388}
    ]
  }
});

// ---- d ----
const dCol = [BLACK, RED, GREEN, BLUE, ORANGE];
const dDs = [];
[dDis1, dDis2, dDis10, dDis50, dDis100].forEach((d, i) => dDs.push(line(d, dCol[i], dLabels[i])));
[dChg1, dChg2, dChg10, dChg50, dChg100].forEach((d, i) => dDs.push(line(d, dCol[i], dLabels[i])));
mk({
  box: {x: 0, y: 500, w: 650, h: 520}, area: {L: 119, T: 49, R: 609, B: 429},
  x: {min: 0, max: 250, ticks: dXTicks, fmt: f0, pad: 7},
  y: {min: 0, max: 3, ticks: dYTicks, fmt: f1, pad: 9},
  datasets: dDs,
  deco: {
    legend: {x1: 462, x2: 504, xt: 512, ys: [175, 207, 238, 272, 302], ds: [0, 1, 2, 3, 4]},
    texts: [
      {t: 'd', x: 27, y: 45, s: 46, c: '#111'},
      {t: 'Voltage (V)', x: 39, y: 254, r: 1, a: 'center'},
      {t: 'Capacity (mAh g^{-1})', x: 363, y: 503, a: 'center'},
      {t: 'TiO_{2}', x: 143, y: 85}
    ]
  }
});

// ---- e ----
mk({
  box: {x: 650, y: 500, w: 670, h: 520}, area: {L: 114, T: 50, R: 601, B: 427},
  x: {min: 0, max: 100, ticks: eXTicks, fmt: f0, pad: 7},
  y: {min: 0, max: 700, ticks: eYTicks, fmt: f0, pad: 10},
  y2: {min: 0, max: 108.6, ticks: eY2Ticks, fmt: f0, pad: 6},
  datasets: [
    mark(eCycles, eRedCE, {y: 'y2', line: LRED, c: LRED, fill: 'transparent', ps: 'rect', r: 6}),
    mark(eCycles, eBlueCE, {y: 'y2', line: LBLUE, c: LBLUE, fill: 'transparent'}),
    mark(eCycles, eRedChg, {label: 'Charge', line: LRED, c: LRED, fill: 'transparent'}),
    mark(eCycles, eRedDis, {label: 'Discharge', line: LRED, c: RED, fill: RED}),
    mark(eCycles, eBlueChg, {label: 'Charge', line: LBLUE, c: LBLUE, fill: 'transparent'}),
    mark(eCycles, eBlueDis, {label: 'Discharge', line: LBLUE, c: BLUE, fill: BLUE})
  ],
  deco: {
    legend: {marker: true, x1: 172, x2: 207, xm: 191, xt: 218, ys: [140, 171, 202, 233], ds: [3, 2, 5, 4]},
    arrows: [{pts: [[10.9, 128], [10.9, 100], [2, 100]]}, {y: 'y2', pts: [[87, 94.2], [87, 89.6], [98, 89.6]]}],
    texts: [
      {t: 'e', x: 21, y: 50, s: 46, c: '#111'},
      {t: 'Capacity (mAh g^{-1})', x: 41, y: 257, r: 1, a: 'center'},
      {t: 'Cycle Number', x: 357, y: 498, a: 'center'},
      {t: COX, x: 390, y: 272, c: '#ff2020'},
      {t: 'TiO_{2}', x: 533, y: 337, c: '#2020ff'}
    ]
  }
});

// ---- f ----
mk({
  box: {x: 1320, y: 500, w: 639, h: 520}, area: {L: 126, T: 48, R: 615, B: 430},
  x: {min: 0, max: 50, ticks: fXTicks, fmt: f0, pad: 7},
  y: {min: 0, max: 600, ticks: fYTicks, fmt: f0, pad: 9},
  datasets: [
    mark(fCycles, fRedChg, {label: 'Charge', line: LRED, c: LRED, fill: 'transparent', r: 5.5, lw: 1.5}),
    mark(fCycles, fRedDis, {label: 'Discharge', line: LRED, c: RED, fill: RED, r: 5.5, lw: 1.5}),
    mark(fCycles, fBlueChg, {label: 'Charge', line: LBLUE, c: LBLUE, fill: 'transparent', r: 5.5, lw: 1.5}),
    mark(fCycles, fBlueDis, {label: 'Discharge', line: LBLUE, c: BLUE, fill: BLUE, r: 5.5, lw: 1.5})
  ],
  deco: {
    legend: {marker: true, x1: 444, x2: 482, xm: 463, xt: 491, ys: [72, 103, 133, 164], ds: [1, 0, 3, 2]},
    texts: [
      {t: 'f', x: 47, y: 70, s: 46, c: '#111'},
      {t: 'Coulombic efficiency (%)', x: 18, y: 255, r: 1, a: 'center'},
      {t: 'Capacity (mAh g^{-1})', x: 54, y: 257, r: 1, a: 'center'},
      {t: 'Cycle Number', x: 371, y: 498, a: 'center'},
      {t: COX, x: 140, y: 132, c: '#ff2020'},
      {t: 'TiO_{2}', x: 142, y: 335, c: '#2020ff'},
      {t: '100', x: 165, y: 195}, {t: '200', x: 261, y: 235}, {t: '500', x: 358, y: 260},
      {t: '1000', x: 446, y: 281}, {t: '100', x: 555, y: 232},
      {t: 'Unit: mA g^{-1}', x: 472, y: 412}
    ]
  }
});

// ---- g ----
mk({
  box: {x: 0, y: 1020, w: 1330, h: 508}, area: {L: 120, T: 49, R: 1221, B: 428},
  x: {min: 0, max: 1000, ticks: gXTicks, fmt: f0, pad: 7},
  y: {min: -100, max: 700, ticks: gYTicks, fmt: f0, pad: 6},
  y2: {min: 0, max: 104.4, ticks: gY2Ticks, fmt: f0, pad: 10},
  datasets: [
    mark(gCycles, gRedCE, {y: 'y2', line: LRED, c: LRED, fill: 'transparent', ps: 'rect', r: 6}),
    mark(gCycles, gBlueCE, {y: 'y2', line: LBLUE, c: LBLUE, fill: 'transparent', ps: 'rect', r: 6}),
    mark(gCycles, gRedChg, {label: 'Charge', line: LRED, c: LRED, fill: 'transparent'}),
    mark(gCycles, gRedDis, {label: 'Discharge', line: LRED, c: RED, fill: RED}),
    mark(gCycles, gBlueChg, {label: 'Charge', line: LBLUE, c: LBLUE, fill: 'transparent'}),
    mark(gCycles, gBlueDis, {label: 'Discharge', line: LBLUE, c: BLUE, fill: BLUE})
  ],
  deco: {
    legend: {marker: true, x1: 295, x2: 332, xm: 316, xt: 343, ys: [118, 150, 181, 212], ds: [3, 2, 5, 4]},
    arrows: [{pts: [[97, -13.5], [97, -49], [9, -49]]}, {y: 'y2', pts: [[864, 93.7], [864, 88.7], [975, 88.7]]}],
    texts: [
      {t: 'g', x: 34, y: 46, s: 46, c: '#111'},
      {t: 'Capacity (mAh g^{-1})', x: 38, y: 257, r: 1, a: 'center'},
      {t: 'Coulombic efficiency (%)', x: 1292, y: 255, r: 1, a: 'center'},
      {t: 'Cycle number', x: 673, y: 496, a: 'center'},
      {t: COX, x: 989, y: 272, c: '#ff2020'},
      {t: 'TiO_{2}', x: 1136, y: 340, c: '#2020ff'}
    ]
  }
});

// ---- h ----
const hMark = (data, col, label) => ({label, data: P(data), showLine: true, borderColor: col, borderWidth: 1.5, pointStyle: 'rect', pointRadius: 7, pointBorderColor: col, pointBackgroundColor: 'transparent', pointBorderWidth: 1.5, tension: 0, clip: 10});
mk({
  box: {x: 1330, y: 1020, w: 629, h: 508}, area: {L: 116, T: 50, R: 605, B: 428},
  x: {min: 0, max: 200, ticks: hTicks, fmt: f0, pad: 7},
  y: {min: 0, max: 200, ticks: hTicks, fmt: f0, pad: 8},
  datasets: [hMark(hRed, '#ff6a6a', COX), hMark(hBlue, '#6a6aff', 'TiO_{2}')],
  deco: {
    legend: {marker: true, x1: 156, x2: 193, xm: 174, xt: 199, ys: [92, 135], ds: [0, 1]},
    texts: [
      {t: 'h', x: 34, y: 50, s: 46, c: '#111'},
      {t: "-Z'' (ohm)", x: 40, y: 257, r: 1, a: 'center'},
      {t: "Z' (ohm)", x: 361, y: 496, a: 'center'}
    ]
  }
});
</script></body></html>
